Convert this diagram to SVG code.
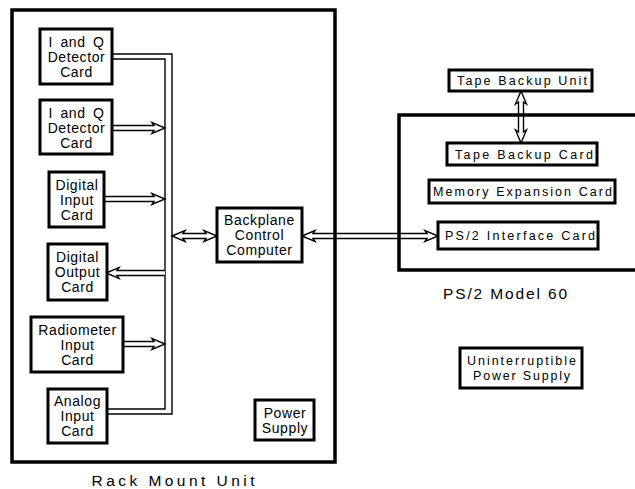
<svg xmlns="http://www.w3.org/2000/svg" width="635" height="489" viewBox="0 0 635 489">
<style>
.box{fill:#fff;stroke:#000;stroke-width:3}
.cont{fill:none;stroke:#000;stroke-width:3.5}
.t{font-family:"Liberation Sans",Arial,sans-serif;font-size:14px;letter-spacing:0.6px;word-spacing:3px;text-anchor:middle;fill:#000}
.s{font-family:"Liberation Sans",Arial,sans-serif;font-size:12.5px;text-anchor:middle;fill:#000}
.big{font-family:"Liberation Sans",Arial,sans-serif;font-size:15.5px;text-anchor:middle;fill:#000}
.bus{fill:none;stroke:#000;stroke-width:1.4}
.arr{fill:#fff;stroke:#000;stroke-width:1.4;stroke-linejoin:miter}
</style>
<rect width="635" height="489" fill="#fff"/>
<g id="connectors">
<path class="bus" d="M112,54 H172 V414 H107"/>
<path class="bus" d="M112,59 H165 V409 H107"/>
<path class="arr" d="M112,125.5 H154 L152,122.5 L165,128 L152,133.5 L154,130.5 H112"/>
<path class="arr" d="M104,196.5 H154 L152,193.5 L165,199 L152,204.5 L154,201.5 H104"/>
<path class="arr" d="M165,270.5 H117 L119,267.5 L106,273 L119,278.5 L117,275.5 H165"/>
<path class="arr" d="M123,341.5 H154 L152,338.5 L165,344 L152,349.5 L154,346.5 H123"/>
<path class="arr" d="M172,236 L185,230.5 L183,233.5 H206 L204,230.5 L217,236 L204,241.5 L206,238.5 H183 L185,241.5 Z"/>
<path class="arr" d="M302,236 L315,230.5 L313,233.5 H427 L425,230.5 L438,236 L425,241.5 L427,238.5 H313 L315,241.5 Z"/>
<path class="arr" d="M521,91 L526.5,104 L523.5,102 V132 L526.5,130 L521,143 L515.5,130 L518.5,132 V102 L515.5,104 Z"/>
</g>
<g id="rack-mount-unit">
<rect class="cont" x="12" y="10" width="323" height="452"/>
<text class="big" x="173" y="486" textLength="163" lengthAdjust="spacing">Rack Mount Unit</text>
</g>
<g id="ps2-model-60">
<path class="cont" d="M640,115 H399 V270 H640"/>
<text class="big" x="505" y="299" textLength="124" lengthAdjust="spacing">PS/2 Model 60</text>
</g>
<g id="iq-card-1">
<rect class="box" x="40" y="29" width="72" height="55"/>
<text class="t" x="76.5" y="47">I and Q</text>
<text class="t" x="76.5" y="62">Detector</text>
<text class="t" x="76.5" y="77">Card</text>
</g>
<g id="iq-card-2">
<rect class="box" x="40" y="100" width="72" height="54"/>
<text class="t" x="76.5" y="117.5">I and Q</text>
<text class="t" x="76.5" y="132.5">Detector</text>
<text class="t" x="76.5" y="147.5">Card</text>
</g>
<g id="digital-input-card">
<rect class="box" x="49" y="172" width="55" height="55"/>
<text class="t" x="77" y="189.5">Digital</text>
<text class="t" x="77" y="204.5">Input</text>
<text class="t" x="77" y="219.5">Card</text>
</g>
<g id="digital-output-card">
<rect class="box" x="48" y="244" width="59" height="56"/>
<text class="t" x="77.5" y="262">Digital</text>
<text class="t" x="77.5" y="277">Output</text>
<text class="t" x="77.5" y="292">Card</text>
</g>
<g id="radiometer-input-card">
<rect class="box" x="31" y="317" width="92" height="55"/>
<text class="t" x="77.5" y="334.5">Radiometer</text>
<text class="t" x="77.5" y="349.5">Input</text>
<text class="t" x="77.5" y="364.5">Card</text>
</g>
<g id="analog-input-card">
<rect class="box" x="48" y="389" width="59" height="54"/>
<text class="t" x="77.5" y="406">Analog</text>
<text class="t" x="77.5" y="421">Input</text>
<text class="t" x="77.5" y="436">Card</text>
</g>
<g id="power-supply">
<rect class="box" x="255" y="400" width="59" height="40"/>
<text class="t" x="285" y="417.5">Power</text>
<text class="t" x="285" y="432.5">Supply</text>
</g>
<g id="backplane-control-computer">
<rect class="box" x="217" y="208" width="85" height="54"/>
<text class="t" x="259.5" y="225">Backplane</text>
<text class="t" x="259.5" y="240">Control</text>
<text class="t" x="259.5" y="255">Computer</text>
</g>
<g id="tape-backup-unit">
<rect class="box" x="449" y="70" width="143" height="21"/>
<text class="s" x="522" y="85" textLength="130" lengthAdjust="spacing">Tape Backup Unit</text>
</g>
<g id="tape-backup-card">
<rect class="box" x="447" y="143" width="150" height="22"/>
<text class="s" x="524" y="158.5" textLength="138" lengthAdjust="spacing">Tape Backup Card</text>
</g>
<g id="memory-expansion-card">
<rect class="box" x="429" y="180" width="186" height="23"/>
<text class="s" x="522.5" y="196" textLength="179" lengthAdjust="spacing">Memory Expansion Card</text>
</g>
<g id="ps2-interface-card">
<rect class="box" x="438" y="222" width="160" height="27"/>
<text class="s" x="520" y="240" textLength="150" lengthAdjust="spacing">PS/2 Interface Card</text>
</g>
<g id="ups">
<rect class="box" x="460" y="348" width="122" height="40"/>
<text class="s" x="521.5" y="365" textLength="109" lengthAdjust="spacing">Uninterruptible</text>
<text class="s" x="521.5" y="380" textLength="97" lengthAdjust="spacing">Power Supply</text>
</g>
</svg>
